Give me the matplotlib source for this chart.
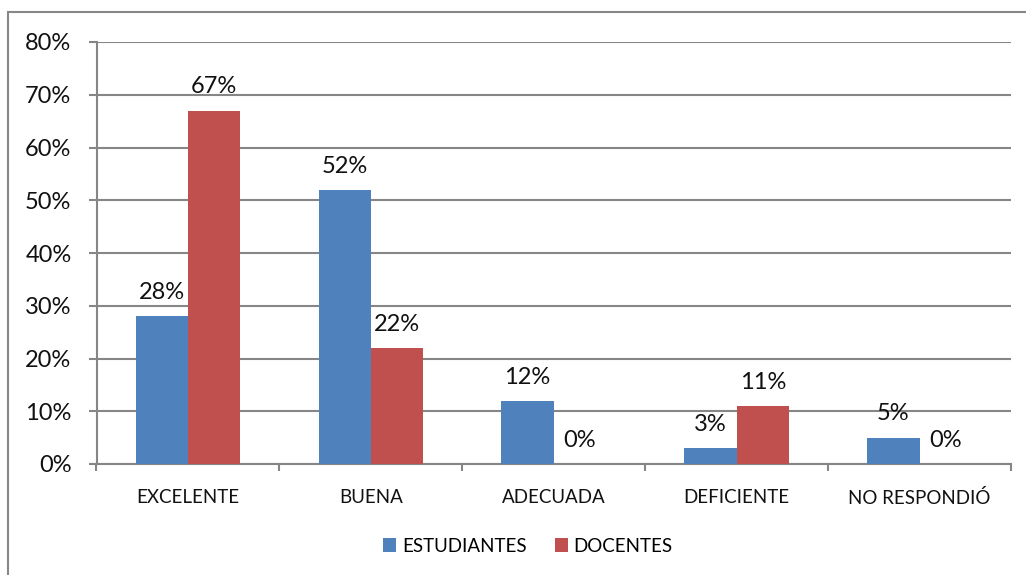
import matplotlib.pyplot as plt
import numpy as np
from matplotlib.patches import Rectangle
from matplotlib.ticker import FixedLocator, PercentFormatter

categories = ["EXCELENTE", "BUENA", "ADECUADA", "DEFICIENTE", "NO RESPONDIÓ"]
estudiantes = [28, 52, 12, 3, 5]
docentes = [67, 22, 0, 11, 0]
series_names = ["ESTUDIANTES", "DOCENTES"]

BLUE = "#4F81BD"
RED = "#C0504D"
GRID = "#868686"
FONT = "Lato"


def main():
    fig = plt.figure(figsize=(10.26, 5.75), dpi=100)
    fig.patch.set_facecolor("white")

    # outer chart frame (only top and left edges are visible in the picture)
    fig.add_artist(Rectangle((8 / 1026, -0.1), 1.2, 0.1 + (575 - 12) / 575,
                             transform=fig.transFigure, fill=False,
                             edgecolor="#878787", linewidth=1.5))

    ax = fig.add_axes([96.5 / 1026, (575 - 464) / 575,
                       (1011 - 96.5) / 1026, (464 - 42) / 575])

    x = np.arange(len(categories))
    width = 1 / 3.5
    b1 = ax.bar(x - width / 2, estudiantes, width, color=BLUE,
                label=series_names[0], zorder=3)
    b2 = ax.bar(x + width / 2, docentes, width, color=RED,
                label=series_names[1], zorder=3)

    for bars, vals in ((b1, estudiantes), (b2, docentes)):
        for rect, v in zip(bars, vals):
            ax.annotate(f"{v}%", (rect.get_x() + rect.get_width() / 2, v),
                        xytext=(0, 9.5), textcoords="offset points",
                        ha="center", va="bottom", fontsize=17,
                        family=FONT, color="#111111", zorder=4)

    ax.set_xlim(-0.5, len(categories) - 0.5)
    ax.set_ylim(0, 80)
    ax.yaxis.set_major_locator(FixedLocator(np.arange(0, 81, 10)))
    ax.yaxis.set_major_formatter(PercentFormatter(decimals=0))
    ax.grid(axis="y", color=GRID, linewidth=1.5, zorder=0)

    ax.set_xticks(x)
    ax.set_xticklabels(categories)
    ax.xaxis.set_minor_locator(FixedLocator(np.arange(-0.5, len(categories), 1)))
    ax.tick_params(axis="x", which="major", length=0, pad=18,
                   labelsize=13.5, labelcolor="#111111")
    ax.tick_params(axis="x", which="minor", length=5, width=1.5,
                   color=GRID, direction="out")
    ax.tick_params(axis="y", length=6, width=1.5, color=GRID, pad=12,
                   labelsize=17, labelcolor="#111111")
    for lbl in ax.get_xticklabels() + ax.get_yticklabels():
        lbl.set_family(FONT)

    for side in ("top", "right"):
        ax.spines[side].set_visible(False)
    ax.spines["left"].set_color(GRID)
    ax.spines["left"].set_linewidth(1.5)
    ax.spines["bottom"].set_color(GRID)
    ax.spines["bottom"].set_linewidth(1.5)

    fig.legend(loc="center", bbox_to_anchor=(528 / 1026, (575 - 546) / 575),
               ncol=2, frameon=False, prop={"family": FONT, "size": 13.5},
               handlelength=0.7, handleheight=0.7, handletextpad=0.3,
               columnspacing=1.5)

    fig.savefig("out.png", dpi=100)
    plt.close(fig)


if __name__ == "__main__":
    main()
